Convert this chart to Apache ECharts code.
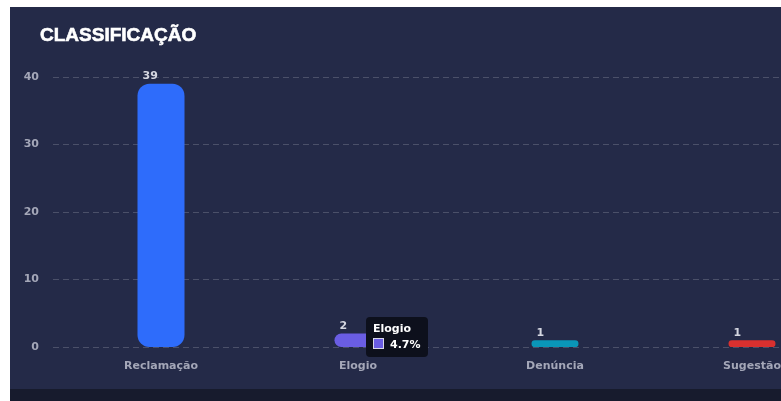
<!DOCTYPE html>
<html>
<head>
<meta charset="utf-8">
<script src="https://cdn.jsdelivr.net/npm/echarts@6/dist/echarts.min.js"></script>
<style>
    html, body { margin: 0; padding: 0; background: #fff; overflow: hidden; width: 781px; height: 401px; }
    .card { position: absolute; left: 10px; top: 7px; width: 900px; height: 382px; background: #242a48; }
    .foot { position: absolute; left: 10px; top: 389px; width: 900px; height: 12px; background: #171b2d; }
</style>
</head>
<body>
<div class="card" id="chart"></div>
<div class="foot"></div>
<script>
var categories = ['Reclamação', 'Elogio', 'Denúncia', 'Sugestão'];
var values = [39, 2, 1, 1];
var yTicks = [0, 10, 20, 30, 40];

var barColors = ['#2e6cfb', '#6a5de3', '#0a96b8', '#d9302f'];
var labelFont = 'DejaVu Sans';

var total = values.reduce(function (a, b) { return a + b; }, 0);

var chart = echarts.init(document.getElementById('chart'), null, {renderer: 'canvas'});

chart.setOption({
    animation: false,
    backgroundColor: '#242a48',
    title: {
        text: 'CLASSIFICAÇÃO',
        left: 25,
        top: 14,
        textStyle: {
            color: '#ffffff',
            fontFamily: 'Liberation Sans',
            fontWeight: 'bold',
            fontSize: 19,
            textBorderColor: '#ffffff',
            textBorderWidth: 0.6
        }
    },
    tooltip: {
        trigger: 'item',
        alwaysShowContent: true,
        transitionDuration: 0,
        backgroundColor: '#0d101c',
        borderWidth: 0,
        padding: [4, 7, 4, 7],
        extraCssText: 'border-radius:4px;box-shadow:none;',
        position: function () {
            return [356, 310];
        },
        formatter: function (p) {
            var pct = (p.value / total * 100).toFixed(1);
            return '<div style="font:bold 11px DejaVu Sans;color:#fff;line-height:16px">' + p.name + '</div>' +
                '<div style="font:bold 11px DejaVu Sans;color:#fff;line-height:16px">' +
                '<span style="display:inline-block;width:9px;height:9px;background:' + p.color +
                ';border:1px solid #d8d8e8;vertical-align:-1px;margin-right:6px"></span>' + pct + '%</div>';
        }
    },
    grid: [
        {left: 43, right: 0, top: 70, bottom: 42, z: 0},
        {left: 52.5, width: 788, top: 70, bottom: 42, z: 1}
    ],
    xAxis: [
        {
            type: 'category',
            gridIndex: 0,
            data: categories,
            show: false
        },
        {
            type: 'category',
            gridIndex: 1,
            data: categories,
            axisLine: {show: false},
            axisTick: {show: false},
            splitLine: {show: false},
            axisLabel: {
                margin: 14,
                color: '#a4a7b8',
                fontFamily: labelFont,
                fontWeight: 'bold',
                fontSize: 11
            }
        }
    ],
    yAxis: [
        {
            type: 'value',
            gridIndex: 0,
            z: 0,
            min: yTicks[0],
            max: yTicks[yTicks.length - 1],
            interval: yTicks[1] - yTicks[0],
            axisLine: {show: false},
            axisTick: {show: false},
            axisLabel: {
                margin: 14,
                color: '#a4a7b8',
                fontFamily: labelFont,
                fontWeight: 'bold',
                fontSize: 11
            },
            splitLine: {
                lineStyle: {
                    color: 'rgba(255,255,255,0.18)',
                    type: [6, 4]
                }
            }
        },
        {
            type: 'value',
            gridIndex: 1,
            min: yTicks[0],
            max: yTicks[yTicks.length - 1],
            interval: yTicks[1] - yTicks[0],
            show: false,
            splitLine: {show: false}
        }
    ],
    series: [
        {
            name: 'Classificação',
            type: 'bar',
            z: 10,
            xAxisIndex: 1,
            yAxisIndex: 1,
            barWidth: 47,
            data: values.map(function (v, i) {
                return {value: v, itemStyle: {color: barColors[i]}};
            }),
            itemStyle: {borderRadius: 12},
            label: {
                show: true,
                position: [5, -13],
                color: '#d4d6e0',
                fontFamily: labelFont,
                fontWeight: 'bold',
                fontSize: 11
            }
        }
    ]
});

chart.dispatchAction({type: 'showTip', seriesIndex: 0, dataIndex: 1});
</script>
</body>
</html>
